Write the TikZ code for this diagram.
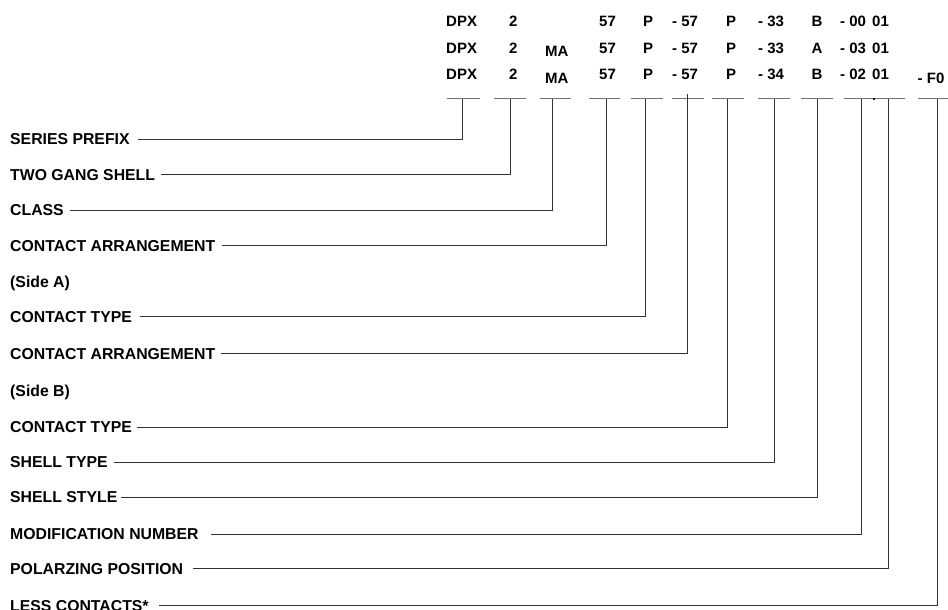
\documentclass[tikz,border=0pt]{standalone}
\usepackage{fontspec}
\setmainfont{Liberation Sans}
\begin{document}
\begin{tikzpicture}[x=1pt,y=-1pt,
 lbl/.style={font=\fontsize{15.8}{18}\selectfont\bfseries, inner sep=0pt, anchor=base west},
 code/.style={font=\fontsize{15}{18}\selectfont\bfseries, inner sep=0pt, anchor=base west},
 bar/.style={draw=black!55, line width=1.1pt},
 conn/.style={draw=black!80, line width=0.8pt}]
\useasboundingbox (0,0) rectangle (948,610);
% code rows
\foreach \r/\b in {1/27,2/53.5,3/80}{
  \node[code] (dpx\r) at (446,\b) {DPX};
  \node[code] (two\r) at (509,\b) {2};
  \node[code] (ca\r) at (599,\b) {57};
  \node[code] (pa\r) at (643,\b) {P};
  \node[code] (cb\r) at (672,\b) {- 57};
  \node[code] (pb\r) at (726,\b) {P};
}
\node[code] (cl2) at (545,57) {MA};
\node[code] (cl3) at (545,83.5) {MA};
\node[code] (st1) at (758,27) {- 33};
\node[code] (st2) at (758,53.5) {- 33};
\node[code] (st3) at (758,80) {- 34};
\node[code, anchor=base] (ss1) at (817,27) {B};
\node[code, anchor=base] (ss2) at (817,53.5) {A};
\node[code, anchor=base] (ss3) at (817,80) {B};
\node[code] (mn1) at (840,27) {- 00};
\node[code] (mn2) at (840,53.5) {- 03};
\node[code] (mn3) at (840,80) {- 02};
\node[code] (pp1) at (872,27) {01};
\node[code] (pp2) at (872,53.5) {01};
\node[code] (pp3) at (872,80) {01};
\node[code] (lc3) at (917.5,83.5) {- F0};
% short bars
\foreach \a/\e in {447/480,494/526,540/571,589/620,631/663,672/704,712/744,758/790,801/833,844/905,918/950}
  \draw[bar] (\a,98.7) -- (\e,98.7);
\fill (873.2,97.9) rectangle (874.8,99.5);
% labels and leaders
\node[lbl] (sa) at (10,287.6) {(Side A)};
\node[lbl] (sb) at (10,396.6) {(Side B)};
\foreach \i/\txt/\y/\vx/\g/\ty in {
 1/SERIES PREFIX/139/462/8/98.7,
 2/TWO GANG SHELL/174.5/510/6/98.7,
 3/CLASS/210/552/5.6/98.7,
 4/CONTACT ARRANGEMENT/245.5/606/6.5/98.7,
 5/CONTACT TYPE/316.5/645/8/98.7,
 6/CONTACT ARRANGEMENT/353.5/687/6/94,
 7/CONTACT TYPE/427/727/5/98.7,
 8/SHELL TYPE/462/774/6.3/98.7,
 9/SHELL STYLE/497/817/4/98.7,
 10/MODIFICATION NUMBER/534/861/11.7/98.7,
 11/POLARZING POSITION/568.5/888/10/98.7,
 12/LESS CONTACTS*/605.7/937/10/98.7}{
  \node[lbl] (L\i) at (10,\y+5.6) {\txt};
  \coordinate (T\i) at (\vx,\ty);
  \draw[conn] (T\i) |- ([xshift=\g pt,yshift=5.6pt]L\i.base east);
}
\end{tikzpicture}
\end{document}
